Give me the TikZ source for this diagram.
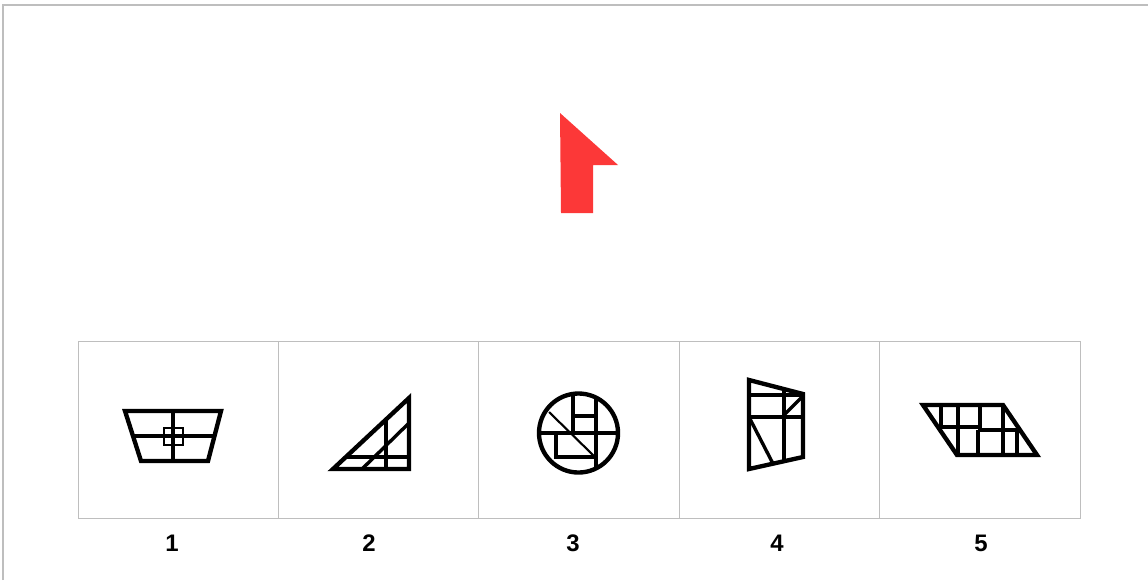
\documentclass[tikz,border=0pt]{standalone}
\usepackage{fontspec}
\setmainfont{Liberation Sans}
\definecolor{arrowred}{RGB}{252,56,56}
\definecolor{framegray}{RGB}{190,190,190}
\usepackage{tikz}
\usetikzlibrary{positioning}

\begin{document}
\begin{tikzpicture}[x=0.025cm, y=-0.025cm,
  panel/.style={draw=framegray, line width=0.6pt, minimum width=5.01cm,
    minimum height=4.425cm, inner sep=0pt},
  outline/.style={line width=3.1pt, line join=miter},
  inner/.style={line width=2.4pt},
  numlabel/.style={font=\fontsize{17}{19}\selectfont\bfseries}]

\useasboundingbox (0,0) rectangle (1148,580);

% Outer frame
\draw[framegray, line width=1.3pt] (3,580) -- (3,5) -- (1148,5);

% Given shape
\fill[arrowred] (560,113) -- (618,165) -- (593,165) -- (593,213) -- (561,213) -- cycle;

% Answer panels and numbers
\foreach \i/\lx in {1/172,2/369,3/573,4/777,5/981}{
  \node[panel] (b\i) at ({78+200.4*\i-100.2},429.5) {};
  \node[numlabel] (l\i) at (\lx,543) {\i};
}

% Option 1
\draw[outline] (125,411) -- (221,411) -- (208,461) -- (141,461) -- cycle;
\draw[inner] (173,411) -- (173,461);
\draw[inner] (133,436) -- (214.5,436);
\draw[inner, line width=1.5pt] (164,428) rectangle (183,445);

% Option 2
\draw[outline] (333,469) -- (409,398) -- (409,469) -- cycle;
\draw[inner] (386,419.5) -- (386,469);
\draw[inner] (345.8,457) -- (409,457);
\draw[inner] (362,469) -- (409,423);

% Option 3
\draw[outline] (578.5,433) circle[radius=0.9875cm];
\draw[inner] (539,433) -- (618,433);
\draw[inner] (573,394) -- (573,433);
\draw[inner] (596,397.6) -- (596,468.4);
\draw[inner] (573,416) -- (596,416);
\draw[inner] (556,433) -- (556,457) -- (596,457);
\draw[inner, line width=1.5pt] (549,412) -- (594,456);

% Option 4
\draw[outline] (749,380) -- (803,394) -- (803,457) -- (749,469) -- cycle;
\draw[inner] (749,395) -- (803,395);
\draw[inner] (749,417) -- (803,417);
\draw[inner] (784,389) -- (784,461);
\draw[inner] (784,415) -- (803,396);
\draw[inner] (749,417) -- (773,463.7);

% Option 5
\draw[outline] (923,405) -- (1003,405) -- (1037,455) -- (957,455) -- cycle;
\draw[inner] (941,405) -- (941,427);
\draw[inner] (958,405) -- (958,455);
\draw[inner] (980,405) -- (980,430);
\draw[inner] (978,430) -- (978,455);
\draw[inner] (1003,405) -- (1003,455);
\draw[inner] (1017,430) -- (1017,455);
\draw[inner] (938,427) -- (980,427);
\draw[inner] (978,430) -- (1020,430);

\end{tikzpicture}
\end{document}
